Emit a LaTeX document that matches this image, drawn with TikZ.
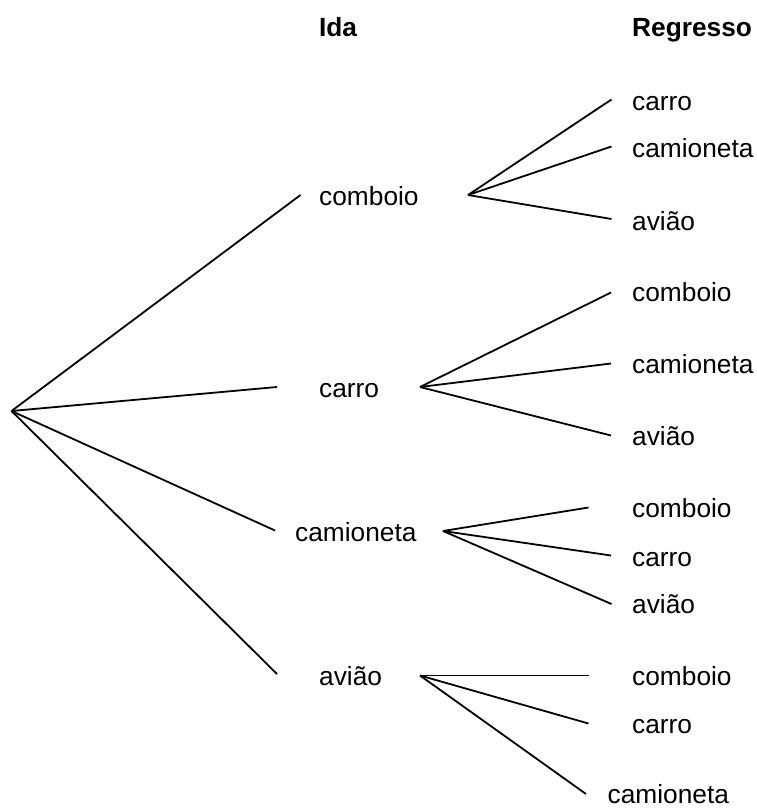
\documentclass[tikz,border=0pt]{standalone}
\usepackage{fontspec}
\setmainfont{Liberation Sans}
\begin{document}
\begin{tikzpicture}[x=1pt,y=-1pt,
  lbl/.style={anchor=base west,inner sep=0pt,font=\fontsize{26.3}{30}\selectfont},
  hdr/.style={lbl,font=\fontsize{26.3}{30}\selectfont\bfseries},
  branch/.style={draw=black,line width=1.8pt}]
\useasboundingbox (0,0) rectangle (756,808);

% headers
\node[hdr,anchor=base] (hIda) at (338,37) {Ida};
\node[hdr] (hReg) at (632,37) {Regresso};

% root
\coordinate (root) at (11.5,411);

% first leg
\coordinate (e1) at (300.5,195);
\coordinate (e2) at (277,387);
\coordinate (e3) at (275,530.5);
\coordinate (e4) at (277,674);
\node[lbl] (l1) at (319,205) {comboio};
\node[lbl] (l2) at (319,397.5) {carro};
\node[lbl] (l3) at (295,541.5) {camioneta};
\node[lbl] (l4) at (319,685) {avião};

\coordinate (h1) at (468,195);
\coordinate (h2) at (420,387);
\coordinate (h3) at (443,531);
\coordinate (h4) at (420,675.5);

% return leg after comboio
\coordinate (a1) at (611.5,99.5);
\coordinate (a2) at (611.5,146.5);
\coordinate (a3) at (611.5,219);
\node[lbl] (r11) at (632,110) {carro};
\node[lbl] (r12) at (632,157) {camioneta};
\node[lbl] (r13) at (632,230) {avião};

% return leg after carro
\coordinate (b1) at (611,292.5);
\coordinate (b2) at (611,363.5);
\coordinate (b3) at (611,435.5);
\node[lbl] (r21) at (632,301.5) {comboio};
\node[lbl] (r22) at (632,373.5) {camioneta};
\node[lbl] (r23) at (632,445) {avião};

% return leg after camioneta
\coordinate (c1) at (588.5,507.5);
\coordinate (c2) at (611,555.5);
\coordinate (c3) at (611.5,604);
\node[lbl] (r31) at (632,517.5) {comboio};
\node[lbl] (r32) at (632,566) {carro};
\node[lbl] (r33) at (632,613.5) {avião};

% return leg after avião
\coordinate (d1) at (588.5,675.5);
\coordinate (d2) at (588.5,723.5);
\coordinate (d3) at (586,794);
\node[lbl] (r41) at (632,685) {comboio};
\node[lbl] (r42) at (632,733.5) {carro};
\node[lbl] (r43) at (607.5,803) {camioneta};

% branches
\foreach \t in {e1,e2,e3,e4} \draw[branch] (root) -- (\t);
\foreach \t in {a1,a2,a3} \draw[branch] (h1) -- (\t);
\foreach \t in {b1,b2,b3} \draw[branch] (h2) -- (\t);
\foreach \t in {c1,c2,c3} \draw[branch] (h3) -- (\t);
\foreach \t in {d1,d2,d3} \draw[branch] (h4) -- (\t);
\end{tikzpicture}
\end{document}
